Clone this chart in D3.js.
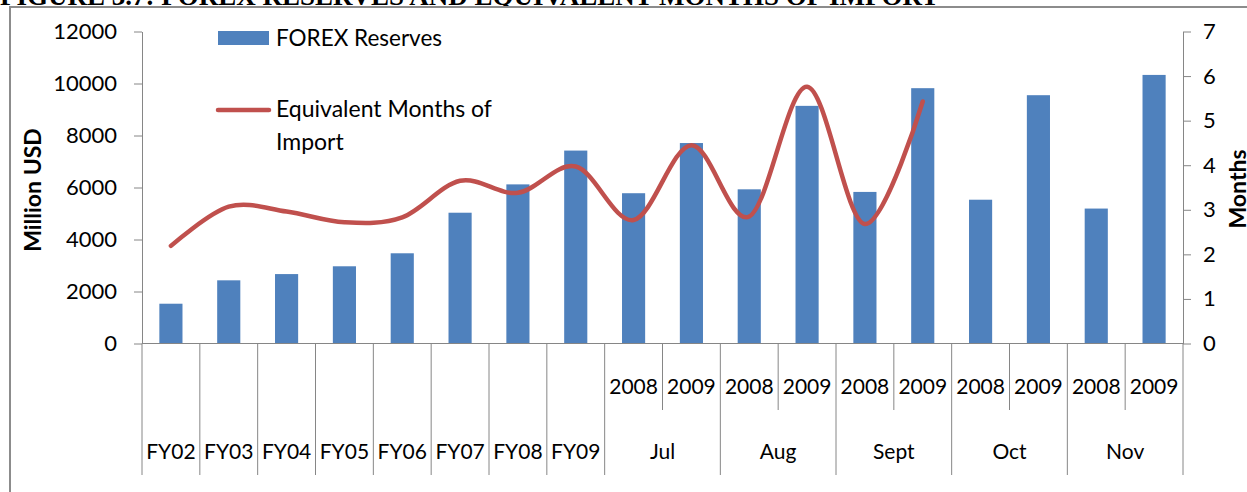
<!DOCTYPE html>
<html>
<head>
<meta charset="utf-8">
<script src="https://cdn.jsdelivr.net/npm/d3@7"></script>
<style>
  html, body { margin: 0; padding: 0; background: #fff; overflow: hidden; }
  svg { display: block; }
  text { font-family: Lato, "Open Sans", "Liberation Sans", sans-serif; fill: #000; }
</style>
</head>
<body>
<svg id="chart" width="1247" height="492"></svg>
<script>
// Fiscal years, then monthly comparison (2008 vs 2009)
const fiscalYears = ["FY02", "FY03", "FY04", "FY05", "FY06", "FY07", "FY08", "FY09"];
const months = ["Jul", "Aug", "Sept", "Oct", "Nov"];
const years = ["2008", "2009"];

// FOREX reserves, million USD
const reserves = [1530, 2430, 2670, 2970, 3470, 5030, 6120, 7420,
                  5780, 7710, 5930, 9140, 5830, 9820, 5530, 9550, 5190, 10330];
// Equivalent months of import (no figure after Sept 2009)
const importMonths = [2.19, 3.07, 2.96, 2.72, 2.83, 3.65, 3.38, 3.97,
                      2.77, 4.45, 2.85, 5.76, 2.68, 5.43, null, null, null, null];

const leftTicks = [0, 2000, 4000, 6000, 8000, 10000, 12000];
const rightTicks = [0, 1, 2, 3, 4, 5, 6, 7];

const title = "FIGURE 3.7: FOREX RESERVES AND EQUIVALENT MONTHS OF IMPORT";
const seriesNames = ["FOREX Reserves", "Equivalent Months of", "Import"];

// category keys
const categories = fiscalYears.concat(
  months.flatMap(m => years.map(y => m + " " + y)));

const barColor = "#4f81bd";
const lineColor = "#c0504d";
const axisColor = "#868686";

const svg = d3.select("#chart");

// title (runs off the top of the frame)
svg.append("text")
  .attr("x", 0).attr("y", 5)
  .style("font-family", "'Liberation Serif', serif")
  .style("font-weight", "bold")
  .style("font-size", "27px")
  .text(title);

// outer chart frame
svg.append("rect")
  .attr("x", 10).attr("y", 7)
  .attr("width", 1400).attr("height", 700)
  .attr("fill", "#fff")
  .attr("stroke", "#8c8c8c").attr("stroke-width", 2);

const plotLeft = 142, plotRight = 1183, plotTop = 31.5, plotBottom = 343.5;

const x = d3.scaleBand().domain(categories).range([plotLeft, plotRight]).padding(0);
const bw = x.bandwidth();
const yL = d3.scaleLinear().domain([0, 12000]).range([plotBottom, plotTop]);
const yR = d3.scaleLinear().domain([0, 7]).range([plotBottom, plotTop]);

// bars
svg.append("g").selectAll("rect")
  .data(categories)
  .join("rect")
  .attr("x", (c) => x(c) + bw * 0.3)
  .attr("width", bw * 0.4)
  .attr("y", (c, i) => yL(reserves[i]))
  .attr("height", (c, i) => yL(0) - yL(reserves[i]))
  .attr("fill", barColor);

// left axis
const axL = svg.append("g")
  .attr("transform", `translate(${plotLeft},0)`)
  .call(d3.axisLeft(yL).tickValues(leftTicks).tickFormat(d3.format("d"))
    .tickSize(8).tickSizeOuter(0).tickPadding(17));
// right axis
const axR = svg.append("g")
  .attr("transform", `translate(${plotRight},0)`)
  .call(d3.axisRight(yR).tickValues(rightTicks).tickFormat(d3.format("d"))
    .tickSize(8).tickSizeOuter(0).tickPadding(12));

[axL, axR].forEach(ax => {
  ax.select(".domain").attr("stroke", axisColor);
  ax.selectAll(".tick line").attr("stroke", axisColor);
  ax.selectAll(".tick text")
    .style("font-family", "Lato, sans-serif")
    .style("font-size", "22px")
    .attr("fill", "#000");
});

// category axis baseline
svg.append("line")
  .attr("x1", plotLeft).attr("x2", plotRight)
  .attr("y1", plotBottom).attr("y2", plotBottom)
  .attr("stroke", axisColor);

// category dividers: full height between groups, shorter between 2008/2009
const boundaries = d3.range(categories.length + 1);
const nFY = fiscalYears.length;
svg.append("g").selectAll("line")
  .data(boundaries)
  .join("line")
  .attr("x1", i => plotLeft + i * bw)
  .attr("x2", i => plotLeft + i * bw)
  .attr("y1", plotBottom)
  .attr("y2", i => (i > nFY && (i - nFY) % 2 === 1) ? 410 : 475)
  .attr("stroke", axisColor)
  .attr("stroke-width", 1);

// year labels
svg.append("g").selectAll("text")
  .data(categories.slice(nFY))
  .join("text")
  .attr("x", c => x(c) + bw / 2)
  .attr("y", 387)
  .attr("text-anchor", "middle")
  .attr("dy", "0.35em")
  .style("font-size", "21px")
  .text(c => c.split(" ")[1]);

// fiscal-year labels
svg.append("g").selectAll("text")
  .data(fiscalYears)
  .join("text")
  .attr("x", c => x(c) + bw / 2)
  .attr("y", 452)
  .attr("text-anchor", "middle")
  .attr("dy", "0.35em")
  .style("font-size", "21px")
  .text(c => c);

// month group labels
svg.append("g").selectAll("text")
  .data(months)
  .join("text")
  .attr("x", m => x(m + " " + years[1]))
  .attr("y", 452)
  .attr("text-anchor", "middle")
  .attr("dy", "0.35em")
  .style("font-size", "21px")
  .text(m => m);

// smoothed months-of-import line
const pts = categories.map((c, i) => ({ c, v: importMonths[i] }));
const line = d3.line()
  .defined(d => d.v != null)
  .x(d => x(d.c) + bw / 2)
  .y(d => yR(d.v))
  .curve(d3.curveCatmullRom.alpha(0));
svg.append("path")
  .datum(pts.filter(d => d.v != null))
  .attr("d", line)
  .attr("fill", "none")
  .attr("stroke", lineColor)
  .attr("stroke-width", 4.5)
  .attr("stroke-linecap", "round")
  .attr("stroke-linejoin", "round");

// axis titles
svg.append("text")
  .attr("transform", "translate(33,190) rotate(-90)")
  .attr("text-anchor", "middle")
  .attr("dy", "0.35em")
  .style("font-weight", "bold")
  .style("font-size", "23px")
  .text("Million USD");
svg.append("text")
  .attr("transform", "translate(1238,189) rotate(-90)")
  .attr("text-anchor", "middle")
  .attr("dy", "0.35em")
  .style("font-weight", "bold")
  .style("font-size", "23px")
  .text("Months");

// legend
const legend = svg.append("g");
legend.append("rect")
  .attr("x", 218).attr("y", 31).attr("width", 51).attr("height", 14)
  .attr("fill", barColor);
legend.append("text")
  .attr("x", 276).attr("y", 38).attr("dy", "0.35em")
  .style("font-size", "22.5px")
  .text(seriesNames[0]);
legend.append("line")
  .attr("x1", 218).attr("x2", 269).attr("y1", 110).attr("y2", 110)
  .attr("stroke", lineColor).attr("stroke-width", 4.5)
  .attr("stroke-linecap", "round");
legend.append("text")
  .attr("x", 276).attr("y", 109).attr("dy", "0.35em")
  .style("font-size", "23px")
  .text(seriesNames[1]);
legend.append("text")
  .attr("x", 276).attr("y", 142).attr("dy", "0.35em")
  .style("font-size", "23px")
  .text(seriesNames[2]);
</script>
</body>
</html>
